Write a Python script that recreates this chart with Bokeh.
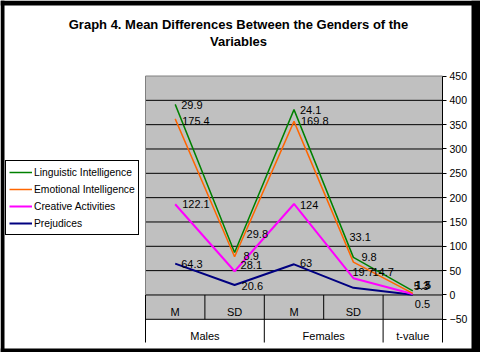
import numpy as np
from bokeh.plotting import figure
from bokeh.models import (Range1d, FixedTicker, Legend, LegendItem, Label,
                          BoxAnnotation, ColumnDataSource, LinearAxis)
from bokeh.embed import file_html
from bokeh.resources import INLINE
from bokeh.core.properties import value

# ---------------- data ----------------
sub_labels = ["M", "SD", "M", "SD", ""]
groups = ["Males", "Females", "t-value"]
group_sizes = [2, 2, 1]
series_names = ["Linguistic Intelligence", "Emotional Intelligence",
                "Creative Activities", "Prejudices"]
linguistic = [29.9, 8.9, 24.1, 9.8, 5.3]
emotional = [175.4, 29.8, 169.8, 33.1, 1.3]
creative = [122.1, 28.1, 124.0, 19.7, 1.5]
prejudices = [64.3, 20.6, 63.0, 14.7, 0.5]
y_ticks = list(range(-50, 451, 50))
title_lines = ["Graph 4. Mean Differences Between the Genders of the", "Variables"]

# ---------------- styles ----------------
colors = {"Linguistic Intelligence": "#008000", "Emotional Intelligence": "#FF6600",
          "Creative Activities": "#FF00FF", "Prejudices": "#000080"}
widths = {"Linguistic Intelligence": 1.5, "Emotional Intelligence": 1.5,
          "Creative Activities": 2, "Prejudices": 2}
# label offsets in pixels (dx, dy; dy positive = down)
label_offsets = {
    "Linguistic Intelligence": [(6, 1), (9, 4), (6, 0), (8, 0), (1, -5)],
    "Emotional Intelligence": [(7, 2), (12, -23), (7, 0), (-4, -25), (2, -8)],
    "Creative Activities": [(7, 0), (6, -6), (6, 1), (-1, -6), (3, -9)],
    "Prejudices": [(6, 0), (7, 1), (6, -1), (19, -16), (2, 9)],
}
FONT = "Liberation Sans"

W, H = 480, 352
ncat = len(sub_labels)
PL, PR = 145, 442          # plot-area pixel edges (x)
top450 = 75.5              # pixel row of the 450 level
ppu_x = (PR - PL) / ncat
ppu_y = 0.4866
x_start = -PL / ppu_x
x_end = ncat + (W - PR) / ppu_x
y_end = 450 + top450 / ppu_y
y_start = 450 - (H - top450) / ppu_y


def px2x(px):
    return x_start + px / ppu_x


def py2y(py):
    return y_end - py / ppu_y


table_bottom = py2y(342)

p = figure(width=W, height=H, output_backend="svg", toolbar_location=None,
           x_range=Range1d(x_start, x_end), y_range=Range1d(y_start, y_end),
           y_axis_location=None, x_axis_location=None, title=None,
           min_border=0, min_border_left=0, min_border_right=0,
           min_border_top=0, min_border_bottom=0)
p.outline_line_color = None
p.background_fill_color = "white"
p.border_fill_color = "white"
p.xgrid.visible = False
p.ygrid.visible = False

# plot area (gray)
p.quad(left=[0], right=[ncat], bottom=[-50], top=[450], fill_color="#C0C0C0",
       line_color=None, level="image")

# gridlines
gt = [t for t in y_ticks if t < 450]
p.segment(x0=[0] * len(gt), y0=gt, x1=[ncat] * len(gt), y1=gt,
          line_color="black", line_width=1)

# right value axis
ax = LinearAxis(fixed_location=ncat, bounds=(table_bottom, 450))
ax.ticker = FixedTicker(ticks=y_ticks)
ax.axis_line_color = "black"
ax.major_tick_line_color = "black"
ax.major_tick_out = 4
ax.major_tick_in = 0
ax.minor_tick_line_color = None
ax.major_label_text_font = FONT
ax.major_label_text_font_size = "10.5px"
ax.major_label_text_color = "black"
ax.major_label_standoff = 3
p.add_layout(ax, "right")

# plot-area borders and category table lines
p.segment(x0=[0], y0=[0], x1=[0], y1=[450], line_color="#808080", line_width=1)
p.segment(x0=[0], y0=[450], x1=[ncat], y1=[450], line_color="#808080", line_width=1)
p.segment(x0=[0], y0=[0], x1=[0], y1=[table_bottom], line_color="black", line_width=1)
inner = list(range(1, ncat))
p.segment(x0=inner, y0=[0] * len(inner), x1=inner, y1=[-50] * len(inner),
          line_color="black", line_width=1)
bounds = [int(b) for b in np.cumsum(group_sizes)[:-1]]
p.segment(x0=bounds, y0=[-50] * len(bounds), x1=bounds,
          y1=[table_bottom] * len(bounds), line_color="black", line_width=1)

# category labels
xc = np.arange(ncat) + 0.5
p.text(x=list(xc), y=[py2y(311)] * ncat, text=sub_labels, text_align="center",
       text_baseline="middle", text_font=value(FONT), text_font_size="11px",
       text_color="black")
starts = np.concatenate([[0], np.cumsum(group_sizes)[:-1]])
gx = [float(s + g / 2) for s, g in zip(starts, group_sizes)]
p.text(x=gx, y=[py2y(335)] * len(groups), text=groups, text_align="center",
       text_baseline="middle", text_font=value(FONT), text_font_size="11px",
       text_color="black")

# stacked lines (bottom to top)
stack_order = [("Prejudices", prejudices), ("Creative Activities", creative),
               ("Emotional Intelligence", emotional),
               ("Linguistic Intelligence", linguistic)]
cum = np.zeros(ncat)
renderers = {}
lx, ly, lt, ldx, ldy = [], [], [], [], []
for name, vals in stack_order:
    cum = cum + np.array(vals)
    r = p.line(x=list(xc), y=list(cum), line_color=colors[name],
               line_width=widths[name])
    renderers[name] = r
    for i in range(ncat):
        lx.append(float(xc[i]))
        ly.append(float(cum[i]))
        lt.append(f"{vals[i]:g}")
        ldx.append(label_offsets[name][i][0])
        ldy.append(label_offsets[name][i][1])

src = ColumnDataSource(dict(x=lx, y=ly, t=lt, dx=ldx, dy=ldy))
p.text(x="x", y="y", text="t", x_offset="dx", y_offset="dy", source=src,
       text_align="left", text_baseline="middle", text_font=value(FONT),
       text_font_size="11px", text_color="black")

# legend
legend = Legend(items=[LegendItem(label=n, renderers=[renderers[n]]) for n in series_names],
                location=(5, H - 235), orientation="vertical",
                border_line_color="black", border_line_width=1, border_line_alpha=1,
                background_fill_color="white", background_fill_alpha=1,
                label_text_font=FONT, label_text_font_size="10.3px",
                label_text_color="black", glyph_width=23, glyph_height=16,
                label_height=16, spacing=1, padding=3, margin=0, label_standoff=2)
p.add_layout(legend)

# title
for line, py in zip(title_lines, [24, 41]):
    p.add_layout(Label(x=px2x(238), y=py2y(py), text=line, text_align="center",
                       text_baseline="middle", text_font=FONT,
                       text_font_size="13px", text_font_style="bold",
                       text_color="black"))

# black border around the whole chart
for (l, r_, t, b) in [(0, 4, 0, H), (0, W, 0, 5), (471, W, 0, H), (0, W, 348, H)]:
    p.add_layout(BoxAnnotation(left=px2x(l), right=px2x(r_), top=py2y(t),
                               bottom=py2y(b), fill_color="black", fill_alpha=1,
                               line_color=None, level="overlay"))

open("out.html", "w").write(file_html(p, INLINE))
